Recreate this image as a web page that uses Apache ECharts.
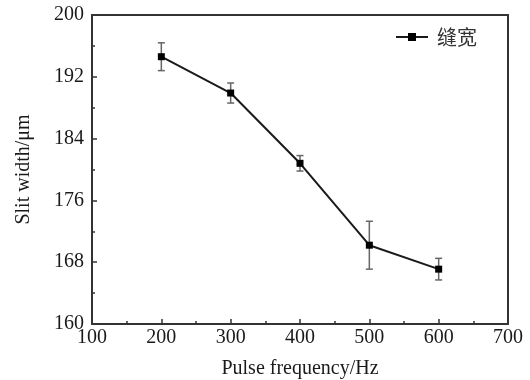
<!DOCTYPE html>
<html>
<head>
<meta charset="utf-8">
<script src="https://cdn.jsdelivr.net/npm/echarts@6/dist/echarts.min.js"></script>
<style>
  html, body { margin: 0; padding: 0; background: #fff; }
  #chart { width: 530px; height: 380px; }
</style>
</head>
<body>
<div id="chart"></div>
<script>
// data
const frequencies = [200, 300, 400, 500, 600];
const slitWidth = [194.6, 189.9, 180.8, 170.2, 167.1];
const slitError = [1.8, 1.3, 1.0, 3.1, 1.4];
const seriesName = "缝宽";

const serif = "Liberation Serif, Times New Roman, serif";
const axisColor = "#333";
const textColor = "#1a1a1a";

const chart = echarts.init(document.getElementById("chart"));

const errorData = frequencies.map((f, i) => [f, slitWidth[i] - slitError[i], slitWidth[i] + slitError[i]]);

const option = {
  backgroundColor: "#fff",
  animation: false,
  grid: { left: 92, top: 15, width: 416, height: 309, containLabel: false, outerBoundsMode: "none" },
  legend: {
    right: 48,
    top: 22,
    itemWidth: 32,
    itemHeight: 10,
    textStyle: { fontFamily: "Noto Sans CJK SC", fontSize: 20, color: "#333", padding: [0, 0, 0, 4] },
    data: [seriesName]
  },
  xAxis: [{
    type: "value",
    min: 100,
    max: 700,
    interval: 100,
    name: "Pulse frequency/Hz",
    nameLocation: "middle",
    nameGap: 35,
    nameTextStyle: { fontFamily: serif, fontSize: 20, color: textColor },
    axisLine: { lineStyle: { color: axisColor, width: 2 } },
    axisTick: { inside: true, length: 5, lineStyle: { color: axisColor, width: 1.5 } },
    minorTick: { show: true, splitNumber: 2, length: 3, lineStyle: { color: axisColor, width: 1.5 } },
    axisLabel: { fontFamily: serif, fontSize: 20, color: textColor, margin: 4 },
    splitLine: { show: false }
  }, {
    type: "value",
    position: "top",
    min: 100,
    max: 700,
    axisLine: { show: true, lineStyle: { color: axisColor, width: 2 } },
    axisTick: { show: false },
    axisLabel: { show: false },
    splitLine: { show: false }
  }],
  yAxis: [{
    type: "value",
    min: 160,
    max: 200,
    interval: 8,
    name: "Slit width/μm",
    nameLocation: "middle",
    nameGap: 58,
    nameTextStyle: { fontFamily: serif, fontSize: 20, color: textColor },
    axisLine: { show: true, lineStyle: { color: axisColor, width: 2 } },
    axisTick: { inside: true, length: 5, lineStyle: { color: axisColor, width: 1.5 } },
    minorTick: { show: true, splitNumber: 2, length: 3, lineStyle: { color: axisColor, width: 1.5 } },
    axisLabel: { fontFamily: serif, fontSize: 20, color: textColor, margin: 8 },
    splitLine: { show: false }
  }, {
    type: "value",
    position: "right",
    min: 160,
    max: 200,
    axisLine: { show: true, lineStyle: { color: axisColor, width: 2 } },
    axisTick: { show: false },
    axisLabel: { show: false },
    splitLine: { show: false }
  }],
  series: [{
    name: seriesName,
    type: "line",
    data: frequencies.map((f, i) => [f, slitWidth[i]]),
    symbol: "rect",
    symbolSize: 7,
    lineStyle: { color: "#1a1a1a", width: 2 },
    itemStyle: { color: "#000" },
    z: 3
  }, {
    type: "custom",
    data: errorData,
    z: 2,
    renderItem: function (params, api) {
      const x = api.value(0);
      const lo = api.coord([x, api.value(1)]);
      const hi = api.coord([x, api.value(2)]);
      const cap = 3.5;
      const style = { stroke: "#666", lineWidth: 1.5 };
      return {
        type: "group",
        children: [
          { type: "line", shape: { x1: lo[0], y1: lo[1], x2: hi[0], y2: hi[1] }, style },
          { type: "line", shape: { x1: lo[0] - cap, y1: lo[1], x2: lo[0] + cap, y2: lo[1] }, style },
          { type: "line", shape: { x1: hi[0] - cap, y1: hi[1], x2: hi[0] + cap, y2: hi[1] }, style }
        ]
      };
    }
  }]
};

chart.setOption(option);
</script>
</body>
</html>
